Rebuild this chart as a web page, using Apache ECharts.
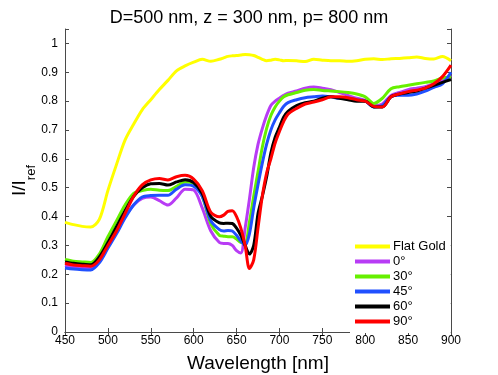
<!DOCTYPE html>
<html>
<head>
<meta charset="utf-8">
<script src="https://cdn.jsdelivr.net/npm/echarts@6/dist/echarts.min.js"></script>
<style>
  html, body { margin: 0; padding: 0; background: #fff; }
  #chart { width: 498px; height: 375px; }
</style>
</head>
<body>
<div id="chart"></div>
<script>
// wavelength grid (nm), denser around the dip
const wavelength = [450,460,470,480,490,500,510,520,530,540,550,560,570,580,590,600,610,620,630,
  635,640,645,650,655,660,665,670,675,680,685,690,695,700,705,710,
  720,730,740,750,760,770,780,790,800,810,820,830,840,850,860,870,880,890,900];

const flatGold = [0.38,0.372,0.366,0.364,0.39,0.49,0.58,0.665,0.72,0.77,0.805,0.84,0.872,0.905,0.922,0.935,0.945,0.938,0.945,
  0.95,0.955,0.957,0.958,0.96,0.962,0.961,0.958,0.952,0.945,0.94,0.942,0.945,0.943,0.94,0.941,
  0.94,0.937,0.945,0.942,0.94,0.94,0.938,0.94,0.945,0.947,0.944,0.947,0.948,0.95,0.953,0.948,0.946,0.955,0.94];
const deg0 = [0.23,0.225,0.222,0.22,0.245,0.3,0.35,0.4,0.44,0.463,0.468,0.455,0.44,0.465,0.495,0.492,0.43,0.35,0.31,
  0.307,0.307,0.3,0.282,0.274,0.36,0.46,0.57,0.65,0.705,0.75,0.785,0.8,0.81,0.82,0.828,
  0.835,0.845,0.849,0.845,0.84,0.83,0.82,0.81,0.803,0.785,0.79,0.82,0.83,0.84,0.845,0.85,0.86,0.87,0.89];
const deg30 = [0.251,0.245,0.243,0.241,0.27,0.33,0.385,0.44,0.48,0.49,0.495,0.491,0.49,0.505,0.52,0.515,0.47,0.375,0.335,
  0.332,0.33,0.33,0.322,0.31,0.31,0.38,0.47,0.555,0.64,0.705,0.75,0.78,0.8,0.815,0.822,
  0.83,0.838,0.84,0.837,0.835,0.833,0.83,0.825,0.815,0.792,0.81,0.843,0.85,0.855,0.86,0.865,0.87,0.88,0.885];
const deg45 = [0.222,0.218,0.216,0.215,0.24,0.29,0.34,0.395,0.44,0.468,0.473,0.474,0.474,0.495,0.51,0.505,0.47,0.385,0.355,
  0.35,0.352,0.35,0.335,0.315,0.301,0.34,0.43,0.51,0.585,0.65,0.7,0.735,0.76,0.782,0.795,
  0.805,0.812,0.815,0.818,0.815,0.81,0.81,0.805,0.8,0.78,0.785,0.815,0.82,0.82,0.825,0.835,0.848,0.86,0.9];
const deg60 = [0.243,0.238,0.235,0.233,0.26,0.31,0.365,0.42,0.47,0.5,0.514,0.515,0.509,0.52,0.528,0.518,0.48,0.4,0.378,
  0.376,0.377,0.376,0.36,0.335,0.3,0.27,0.3,0.41,0.47,0.537,0.62,0.675,0.71,0.745,0.765,
  0.785,0.795,0.8,0.81,0.815,0.81,0.805,0.8,0.8,0.78,0.78,0.815,0.825,0.83,0.835,0.845,0.855,0.865,0.875];
const deg90 = [0.238,0.232,0.23,0.228,0.25,0.3,0.35,0.41,0.47,0.51,0.527,0.532,0.527,0.538,0.543,0.53,0.49,0.415,0.399,
  0.405,0.418,0.42,0.4,0.36,0.3,0.22,0.25,0.36,0.47,0.55,0.6,0.655,0.695,0.73,0.755,
  0.775,0.79,0.797,0.805,0.815,0.815,0.812,0.805,0.8,0.782,0.78,0.815,0.825,0.833,0.838,0.845,0.86,0.885,0.925];

const names = ['Flat Gold', '0°', '30°', '45°', '60°', '90°'];
const colors = ['#ffff00', '#b83cf5', '#66f000', '#2050ff', '#000000', '#ff0000'];
const seriesData = [flatGold, deg0, deg30, deg45, deg60, deg90];

const chart = echarts.init(document.getElementById('chart'));
const font = 'Liberation Sans, Arial, Helvetica, sans-serif';
const axisColor = '#4a4a4a';

const option = {
  animation: false,
  title: {
    text: 'D=500 nm, z = 300 nm, p= 800 nm',
    left: 'center',
    top: 4,
    textStyle: { fontFamily: font, fontSize: 18, fontWeight: 'normal', color: '#000' }
  },
  grid: { left: 65, right: 47, top: 29, bottom: 43, outerBoundsMode: 'none', containLabel: false },
  legend: {
    data: names,
    orient: 'vertical',
    left: 350,
    top: 235,
    itemWidth: 35,
    itemHeight: 4,
    itemGap: 2,
    icon: 'rect',
    textStyle: { fontFamily: font, fontSize: 13, color: '#000', padding: [0, 0, 0, -2] },
    backgroundColor: '#fff'
  },
  xAxis: [{
    type: 'value',
    min: 450, max: 900, interval: 50,
    name: 'Wavelength [nm]',
    nameLocation: 'middle',
    nameGap: 22,
    nameMoveOverlap: false,
    nameTextStyle: { fontFamily: font, fontSize: 19, color: '#000' },
    axisLine: { lineStyle: { color: axisColor, width: 1 } },
    axisTick: { inside: true, length: 4, lineStyle: { color: axisColor } },
    axisLabel: { fontFamily: font, fontSize: 12, color: '#000', margin: 3 },
    splitLine: { show: false }
  }, {
    type: 'value', position: 'top',
    min: 450, max: 900, interval: 50,
    axisLine: { show: true, lineStyle: { color: axisColor, width: 1 } },
    axisTick: { show: true, inside: true, length: 4, lineStyle: { color: axisColor } },
    axisLabel: { show: false },
    splitLine: { show: false }
  }],
  yAxis: [{
    type: 'value',
    min: 0, max: 1.05, interval: 0.1,
    name: '{a|I/I}{b|ref}',
    nameLocation: 'middle',
    nameGap: 27,
    nameMoveOverlap: false,
    nameRotate: 90,
    nameTextStyle: {
      rich: {
        a: { fontFamily: font, fontSize: 19, color: '#000', lineHeight: 28, verticalAlign: 'top', padding: [0, 0, 4, 0] },
        b: { fontFamily: font, fontSize: 13, color: '#000', lineHeight: 28, verticalAlign: 'bottom', padding: [6, 0, 0, 0] }
      }
    },
    axisLine: { show: true, lineStyle: { color: axisColor, width: 1 } },
    axisTick: { show: true, inside: true, length: 4, lineStyle: { color: axisColor } },
    axisLabel: {
      fontFamily: font, fontSize: 12, color: '#000', margin: 7,
      formatter: v => (v > 1.001 ? '' : String(Math.round(v * 10) / 10))
    },
    splitLine: { show: false }
  }, {
    type: 'value', position: 'right',
    min: 0, max: 1.05, interval: 0.1,
    axisLine: { show: true, lineStyle: { color: axisColor, width: 1 } },
    axisTick: { show: true, inside: true, length: 4, lineStyle: { color: axisColor } },
    axisLabel: { show: false },
    splitLine: { show: false }
  }],
  series: seriesData.map((d, i) => ({
    name: names[i],
    type: 'line',
    smooth: 0.3,
    symbol: 'none',
    data: wavelength.map((w, k) => [w, d[k]]),
    lineStyle: { color: colors[i], width: 3 },
    itemStyle: { color: colors[i] }
  }))
};

chart.setOption(option);
</script>
</body>
</html>
